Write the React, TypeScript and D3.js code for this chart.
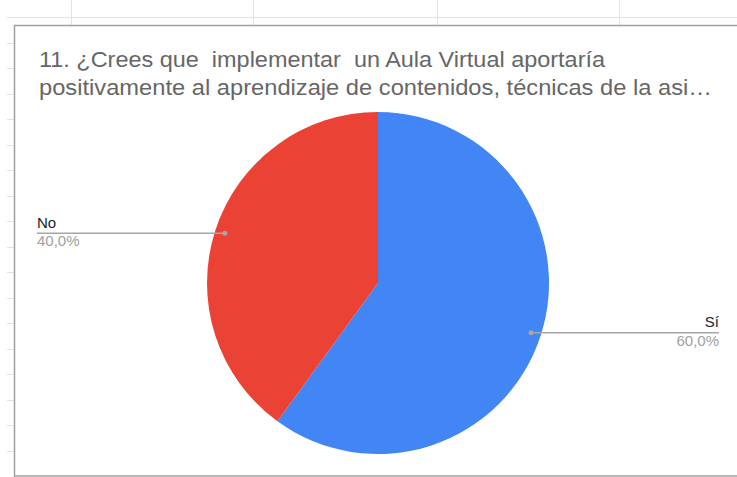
import React from "react";
import * as d3 from "d3";

const categories = ["Sí", "No"];
const values = [60, 40];
const colors = ["#4285F4", "#EA4335"];
const percentLabels = ["60,0%", "40,0%"];
const titleLines = [
  "11. ¿Crees que  implementar  un Aula Virtual aportaría",
  "positivamente al aprendizaje de contenidos, técnicas de la asi…",
];
const titleWidths = [566, 673];
// spreadsheet background grid (decoration)
const sheetColumns = [71, 253, 437, 619];
const sheetRowCount = 17;

const W = 737;
const H = 477;

export default function App() {
  const cx = 378;
  const cy = 283;
  const r = 171;
  const data = categories.map((c, i) => ({ name: c, value: values[i], color: colors[i], pct: percentLabels[i] }));
  const pie = d3.pie<any>().sort(null).value((d: any) => d.value);
  const arcs = pie(data);
  const arc = d3.arc<any>().innerRadius(0).outerRadius(r);
  const labelArc = d3.arc<any>().innerRadius(161).outerRadius(161);

  const rowY = d3.range(sheetRowCount).map((i) => 42.5 + i * 25.5);

  return (
    <svg
      width={W}
      height={H}
      style={{ position: "absolute", left: 0, top: 0, background: "#fff" }}
      fontFamily="'Liberation Sans', Arial, sans-serif"
    >
      {/* sheet grid */}
      <line x1={7} x2={W} y1={17.5} y2={17.5} stroke="#e3e3e3" strokeWidth={1} />
      {sheetColumns.map((x) => (
        <line key={x} x1={x + 0.5} x2={x + 0.5} y1={0} y2={25} stroke="#e3e3e3" strokeWidth={1} />
      ))}
      {rowY.map((y) => (
        <line key={y} x1={7} x2={14} y1={Math.round(y) + 0.5} y2={Math.round(y) + 0.5} stroke="#e3e3e3" strokeWidth={1} />
      ))}
      {/* chart box */}
      <rect x={14.5} y={25.5} width={W + 10} height={450.5} fill="#fff" stroke="#a0a0a0" strokeWidth={1.5} />
      {/* title */}
      {titleLines.map((t, i) => (
        <text
          key={i}
          x={39}
          y={67 + i * 27.5}
          fontSize={22.5}
          fill="#666"
          textLength={titleWidths[i]}
          lengthAdjust="spacingAndGlyphs"
          style={{ whiteSpace: "pre" }}
        >
          {t}
        </text>
      ))}
      {/* pie */}
      <g transform={`translate(${cx},${cy})`}>
        {arcs.map((a, i) => (
          <path key={i} d={arc(a) as string} fill={a.data.color} />
        ))}
      </g>
      {/* leader lines and labels */}
      {arcs.map((a, i) => {
        const [px, py] = labelArc.centroid(a);
        const x0 = cx + px;
        const y0 = cy + py;
        const right = px > 0;
        const xEnd = right ? 719 : 37;
        return (
          <g key={i}>
            <line x1={x0} x2={xEnd} y1={y0} y2={y0} stroke="#a6a6a6" strokeWidth={1.5} />
            <circle cx={x0} cy={y0} r={2.5} fill="#a6a6a6" />
            <text x={xEnd} y={y0 - 5.5} fontSize={15} fill="#222" textAnchor={right ? "end" : "start"}>
              {a.data.name}
            </text>
            <text x={xEnd} y={y0 + 13} fontSize={15} fill="#a0a0a0" textAnchor={right ? "end" : "start"}>
              {a.data.pct}
            </text>
          </g>
        );
      })}
    </svg>
  );
}
